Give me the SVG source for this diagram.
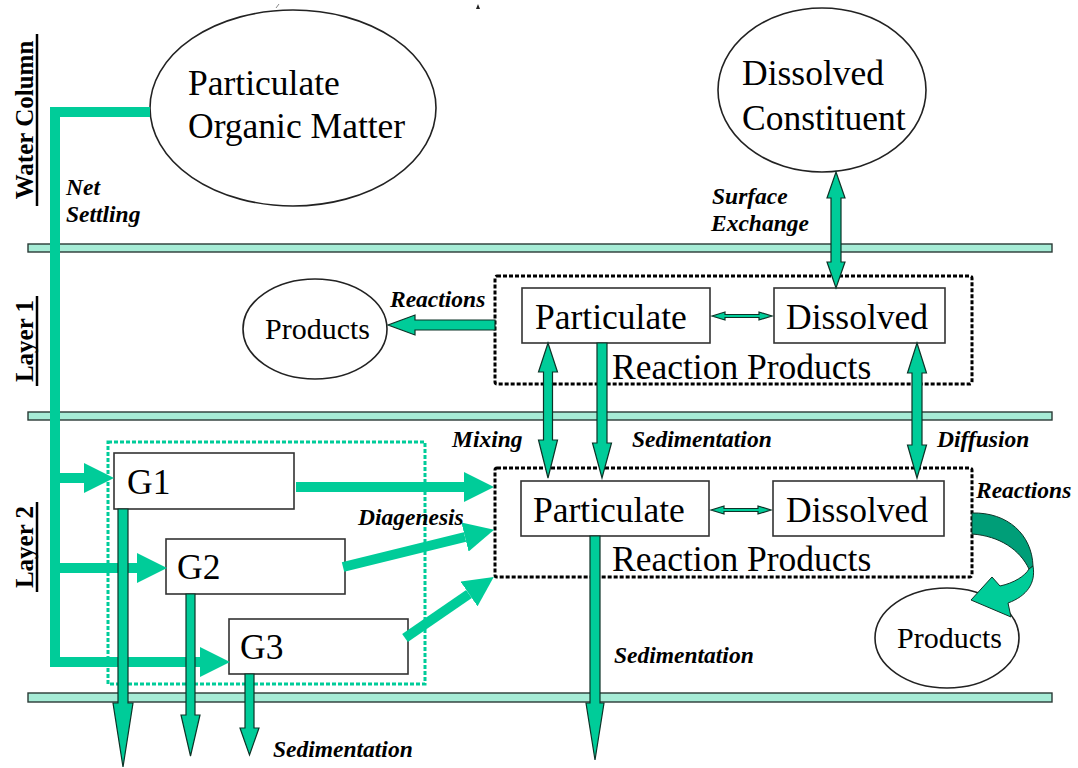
<svg xmlns="http://www.w3.org/2000/svg" width="1078" height="768" viewBox="0 0 1078 768">
<defs>
<style>
.main{font-family:"Liberation Serif","Times New Roman",serif;font-size:35.5px;fill:#000}
.prod{font-family:"Liberation Serif","Times New Roman",serif;font-size:30px;fill:#000}
.lbl{font-family:"Liberation Serif","Times New Roman",serif;font-size:23.5px;font-weight:bold;font-style:italic;fill:#000}
.layer{font-family:"Liberation Serif","Times New Roman",serif;font-size:25px;font-weight:bold;fill:#000}
.node{fill:#fff;stroke:#333;stroke-width:1.6}
.ell{fill:#fff;stroke:#222;stroke-width:1.6}
.band{fill:#a6ecd6;stroke:#2a3a35;stroke-width:1.4}
.dotk{fill:none;stroke:#000;stroke-width:3;stroke-dasharray:4 2}
.dotg{fill:none;stroke:#00cc99;stroke-width:3;stroke-dasharray:4 2}
.flow{fill:none;stroke:#00cc99;stroke-width:10}
.oarr{fill:#00cc99;stroke:#0d3327;stroke-width:1.2;stroke-linejoin:miter}
</style>
<marker id="ah" viewBox="0 0 10 10" refX="0" refY="5" markerWidth="3" markerHeight="3" orient="auto" markerUnits="strokeWidth">
<path d="M0,0 L10,5 L0,10 z" fill="#00cc99"/>
</marker>
</defs>
<rect width="1078" height="768" fill="#fff"/>

<!-- stray marks -->
<line x1="276" y1="8" x2="279" y2="4" stroke="#888" stroke-width="1"/>
<polygon points="476,9 478,4 480,9" fill="#222"/>

<!-- layer bands -->
<g id="bands">
<rect class="band" x="28" y="244" width="1024" height="8"/>
<rect class="band" x="28" y="412" width="1024" height="8"/>
<rect class="band" x="28" y="693" width="1024" height="9"/>
</g>

<!-- layer labels -->
<g id="layer-labels">
<text class="layer" transform="translate(33,120) rotate(-90)" text-anchor="middle">Water Column</text>
<line x1="37" y1="34" x2="37" y2="206" stroke="#000" stroke-width="2.5"/>
<text class="layer" transform="translate(33,341) rotate(-90)" text-anchor="middle">Layer 1</text>
<line x1="37" y1="296" x2="37" y2="386" stroke="#000" stroke-width="2.5"/>
<text class="layer" transform="translate(33,547) rotate(-90)" text-anchor="middle">Layer 2</text>
<line x1="37" y1="502" x2="37" y2="592" stroke="#000" stroke-width="2.5"/>
</g>

<!-- diagenesis group box -->
<g id="diagenesis-box">
<rect class="dotg" x="108" y="442" width="317" height="242"/>
</g>

<!-- nodes -->
<g id="pom">
<ellipse class="ell" cx="293" cy="108" rx="143" ry="98"/>
<text class="main" x="188" y="95">Particulate</text>
<text class="main" x="188" y="138">Organic Matter</text>
</g>
<g id="dissolved-constituent">
<ellipse class="ell" cx="822" cy="90" rx="104" ry="82"/>
<text class="main" x="742" y="85">Dissolved</text>
<text class="main" x="742" y="130">Constituent</text>
</g>
<g id="products-l1">
<ellipse class="ell" cx="315" cy="329" rx="72" ry="50"/>
<text class="prod" x="265" y="339">Products</text>
</g>
<g id="reaction-products-l1">
<rect class="dotk" x="495" y="276" width="477" height="108" rx="2"/>
<text class="main" x="612" y="379">Reaction Products</text>
</g>
<g id="particulate-l1">
<rect class="node" x="522" y="288" width="188" height="55"/>
<text class="main" x="535" y="329">Particulate</text>
</g>
<g id="dissolved-l1">
<rect class="node" x="774" y="288" width="171" height="55"/>
<text class="main" x="786" y="329">Dissolved</text>
</g>
<g id="reaction-products-l2">
<rect class="dotk" x="495" y="468" width="477" height="109" rx="2"/>
<text class="main" x="612" y="571">Reaction Products</text>
</g>
<g id="particulate-l2">
<rect class="node" x="521" y="481" width="188" height="55"/>
<text class="main" x="533" y="522">Particulate</text>
</g>
<g id="dissolved-l2">
<rect class="node" x="773" y="481" width="171" height="55"/>
<text class="main" x="786" y="522">Dissolved</text>
</g>
<g id="products-l2">
<ellipse class="ell" cx="947" cy="638" rx="72" ry="50"/>
<text class="prod" x="897" y="648">Products</text>
</g>
<g id="g1">
<rect class="node" x="114" y="453" width="180" height="56"/>
<text class="main" x="127" y="494">G1</text>
</g>
<g id="g2">
<rect class="node" x="166" y="539" width="179" height="55"/>
<text class="main" x="177" y="579">G2</text>
</g>
<g id="g3">
<rect class="node" x="229" y="619" width="179" height="55"/>
<text class="main" x="240" y="659">G3</text>
</g>

<!-- connectors -->
<g id="connectors">
<!-- net settling -->
<path class="flow" d="M150,112 H55 V662 H200" marker-end="url(#ah)" stroke-linejoin="miter"/>
<path class="flow" d="M55,478 H84" marker-end="url(#ah)"/>
<path class="flow" d="M55,568 H137" marker-end="url(#ah)"/>
<!-- diagenesis -->
<path class="flow" d="M296,487 H464" marker-end="url(#ah)"/>
<path class="flow" d="M343,567 L465,537" marker-end="url(#ah)"/>
<path class="flow" d="M405,638 L469,594" marker-end="url(#ah)"/>

<!-- surface exchange -->
<polygon class="oarr" points="836,172 845,198 841,198 841,262 845,262 836,288 827,262 831,262 831,198 827,198"/>
<!-- reactions layer 1 -->
<polygon class="oarr" points="495,320 415,320 415,315 388,325 415,335 415,330 495,330"/>
<!-- particulate-dissolved L1 -->
<polygon class="oarr" points="712,316 725,312 725,314.5 759,314.5 759,312 772,316 759,320 759,317.5 725,317.5 725,320"/>
<!-- particulate-dissolved L2 -->
<polygon class="oarr" points="711,510 724,506 724,508.5 758,508.5 758,506 771,510 758,514 758,511.5 724,511.5 724,514"/>
<!-- mixing -->
<polygon class="oarr" points="548,343 557.5,372 552.5,372 552.5,440 557.5,440 548,478 538.5,440 543.5,440 543.5,372 538.5,372"/>
<!-- sedimentation L1->L2 -->
<polygon class="oarr" points="597,343 607,343 607,443 611.5,443 602,478 592.5,443 597,443"/>
<!-- diffusion -->
<polygon class="oarr" points="917,343 926.5,373 922,373 922,445 926.5,445 917,478 907.5,445 912,445 912,373 907.5,373"/>
<!-- sedimentation L2 out -->
<polygon class="oarr" points="590,536 600,536 600,703 604,703 595,760 586,703 590,703"/>
<!-- G sedimentation -->
<polygon class="oarr" points="118,509 128,509 128,703 133,703 123,767 113,703 118,703"/>
<polygon class="oarr" points="186,594 195,594 195,715 200,715 190.5,756 181,715 186,715"/>
<polygon class="oarr" points="245,674 254,674 254,728 259,728 249.5,755 240,728 245,728"/>
<!-- reactions L2 curved -->
<path d="M972,513 C1008,512 1032,535 1033,566 L1029,569 C1020,550 1000,536 972,534 Z" fill="#009e78" stroke="#0d3327" stroke-width="1"/>
<path d="M1033,566 C1036,583 1027,596 1008,603 L1011,617 L971,600 L992,577 L1000,586 C1014,583 1025,576 1029,569 Z" fill="#00cc99" stroke="#0d3327" stroke-width="1"/>
</g>

<!-- labels -->
<g id="labels">
<text class="lbl" x="66" y="195">Net</text>
<text class="lbl" x="66" y="222">Settling</text>
<text class="lbl" x="712" y="204">Surface</text>
<text class="lbl" x="711" y="231">Exchange</text>
<text class="lbl" x="390" y="307">Reactions</text>
<text class="lbl" x="452" y="447">Mixing</text>
<text class="lbl" x="632" y="447">Sedimentation</text>
<text class="lbl" x="937" y="447">Diffusion</text>
<text class="lbl" x="358" y="525">Diagenesis</text>
<text class="lbl" x="976" y="498">Reactions</text>
<text class="lbl" x="614" y="663">Sedimentation</text>
<text class="lbl" x="273" y="757">Sedimentation</text>
</g>
</svg>
